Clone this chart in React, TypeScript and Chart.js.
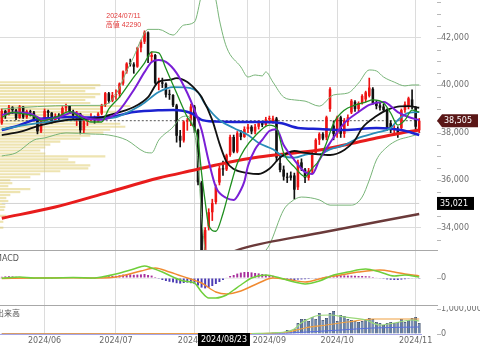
import { useEffect, useRef } from 'react';
import { Chart, registerables } from 'chart.js';

Chart.register(...registerables);
Chart.defaults.font.family = '"DejaVu Sans", "Noto Sans CJK JP", sans-serif';
Chart.defaults.font.size = 8;

// ---------- trading days ----------
const mayDays = [16, 17, 20, 21, 22, 23, 24, 27, 28, 29, 30, 31];
const junDays = [3, 4, 5, 6, 7, 10, 11, 12, 13, 14, 17, 18, 19, 20, 21, 24, 25, 26, 27, 28];
const julDays = [1, 2, 3, 4, 5, 8, 9, 10, 11, 12, 16, 17, 18, 19, 22, 23, 24, 25, 26, 29, 30, 31];
const augDays = [1, 2, 5, 6, 7, 8, 9, 13, 14, 15, 16, 19, 20, 21, 22, 23, 26, 27, 28, 29, 30];
const sepDays = [2, 3, 4, 5, 6, 9, 10, 11, 12, 13, 17, 18, 19, 20, 24, 25, 26, 27, 30];
const octDays = [1, 2, 3, 4, 7, 8, 9, 10, 11, 15, 16, 17, 18, 21, 22, 23, 24, 25, 28, 29, 30, 31];
const novDays = [1, 5];
const monthList: [number, number[]][] = [[5, mayDays], [6, junDays], [7, julDays], [8, augDays], [9, sepDays], [10, octDays], [11, novDays]];
const two = (n: number) => String(n).padStart(2, '0');
const labels: string[] = monthList.flatMap(([m, ds]) => ds.map((d) => `2024/${two(m)}/${two(d)}`));

// ---------- OHLC ----------
const opens = [38400, 38920, 38790, 39070, 38950, 38620, 39100, 38650, 38900, 38850, 38550, 38050,
  38490, 38920, 38840, 38490, 38700, 38680, 39040, 39130, 38880, 38720, 38810, 38100, 38480, 38570, 38630, 38600, 38800, 39170, 39660, 39340,
  39580, 39630, 40070, 40580, 40910, 40880, 40780, 41580, 41830, 42220, 41190, 41270, 40100, 40120, 40060, 39600, 39590, 39150, 37870, 37670, 38470, 38520,
  39100, 38120, 35900, 32400, 34050, 34650, 35080, 35900, 36500, 36450, 37060, 37820, 37200, 37980, 37820, 38150, 38250, 38050, 38250, 38400, 38330,
  38560, 38450, 38600, 36720, 36450, 36150, 36200, 36200, 35700, 36750, 36450, 36100, 36400, 37150, 37700, 37950, 37800, 39000, 38300,
  37950, 38650, 37950, 38450, 38850, 39300, 39000, 39250, 39400, 39550, 39850, 39250, 39150, 39100, 38950, 38400, 38100, 38150, 38200, 38950, 39100, 39400,
  39050, 38100];
const highs = [39000, 38950, 39150, 39100, 38980, 39150, 39100, 38950, 38950, 38900, 38600, 38600,
  39000, 38950, 38850, 38800, 38800, 39100, 39200, 39150, 38950, 38900, 38820, 38550, 38600, 38800, 38700, 38850, 39200, 39700, 39700, 39700,
  39800, 40100, 40600, 40950, 41100, 40950, 41600, 41900, 42290, 42250, 41400, 41300, 40300, 40300, 40100, 39800, 39600, 39200, 38100, 38500, 38600, 39200,
  39150, 38150, 35950, 34000, 34800, 35200, 35800, 36600, 36800, 37100, 37900, 37900, 38050, 38100, 38250, 38350, 38300, 38350, 38500, 38450, 38650,
  38700, 38700, 38650, 37000, 36600, 36300, 36350, 36300, 36850, 36900, 36500, 36500, 37200, 37750, 38000, 38000, 38700, 39900, 38500,
  38700, 38700, 38600, 38750, 39400, 39350, 39300, 39600, 39750, 40300, 39900, 39350, 39250, 39200, 39000, 38500, 38300, 38250, 39000, 39300, 39500, 39800,
  39100, 38600];
const lows = [38350, 38600, 38750, 38800, 38550, 38600, 38600, 38600, 38700, 38500, 37950, 38000,
  38450, 38600, 38400, 38450, 38550, 38650, 38900, 38800, 38600, 38300, 37950, 38000, 38300, 38500, 38400, 38450, 38750, 39100, 39250, 39300,
  39400, 39500, 40000, 40500, 40800, 40500, 40750, 41400, 41750, 40950, 41000, 40050, 39800, 39900, 39500, 39400, 39100, 37600, 37400, 37600, 38100, 38300,
  38000, 35800, 31150, 32000, 33900, 34300, 35000, 35800, 36200, 36400, 37000, 37150, 37150, 37700, 37800, 38000, 37950, 37950, 38150, 38250, 38300,
  38400, 38400, 36800, 36350, 36000, 35900, 36000, 35200, 35600, 36400, 35900, 36000, 36300, 37100, 37500, 37700, 37700, 38900, 37700,
  37800, 37800, 37800, 38300, 38800, 38900, 38900, 39200, 39300, 39500, 39200, 39000, 38950, 38900, 38100, 38000, 37900, 37800, 38150, 38850, 39000, 39000,
  38100, 38000];
const closes = [38920, 38787, 39069, 38946, 38617, 39103, 38646, 38900, 38855, 38556, 38054, 38487,
  38923, 38837, 38490, 38703, 38683, 39038, 39134, 38876, 38720, 38814, 38102, 38482, 38570, 38633, 38596, 38804, 39173, 39667, 39341, 39583,
  39631, 40074, 40580, 40913, 40880, 40780, 41580, 41831, 42224, 41190, 41275, 40097, 40126, 40063, 39599, 39594, 39154, 37869, 37667, 38468, 38525, 39102,
  38126, 35909, 31458, 33900, 34650, 35040, 35710, 36500, 36450, 37050, 37820, 37200, 37980, 37820, 38150, 38250, 38050, 38250, 38400, 38330, 38560,
  38620, 38600, 36950, 36430, 36150, 36100, 36100, 35600, 36750, 36500, 36100, 36400, 37150, 37700, 37950, 37750, 38650, 39830, 37950,
  38650, 37950, 38500, 38650, 39350, 39000, 39250, 39550, 39700, 39900, 39250, 39120, 39050, 38950, 38150, 38100, 38150, 38000, 38950, 39200, 39450, 39100,
  38250, 38505];

const lastPrice = 38505;
const crossPrice = 35021;
const crossDate = '2024/08/23';

// ---------- price lines: [trading-day index, value] ----------
type Pt = [number, number];
const ma5: Pt[] = [[0, 38650], [3, 38850], [6, 38800], [9, 38700], [11, 38500], [13, 38550], [16, 38700], [19, 38900], [22, 38650], [25, 38450], [28, 38450], [30, 39000], [33, 39500], [37, 40340], [40, 40930], [42, 41400], [44, 41360], [46, 40700], [49, 39670], [52, 38660], [53, 38420], [55, 37700], [56, 36300], [57, 35100], [58, 34100], [60, 33850], [62, 34600], [64, 35700], [66, 36700], [68, 37300], [71, 37860], [75, 38320], [77, 38200], [79, 37150], [82, 36560], [85, 36150], [87, 36500], [89, 36850], [91, 37570], [93, 38400], [96, 38950], [99, 39160], [102, 39290], [104, 39380], [107, 39250], [109, 38830], [111, 38320], [113, 38530], [115, 38950], [117, 38870]];
const maPurple: Pt[] = [[0, 38750], [4, 38850], [8, 38800], [12, 38550], [16, 38650], [20, 38850], [24, 38600], [28, 38550], [31, 38700], [33, 38950], [37, 39800], [40, 40550], [42, 40980], [44, 41060], [46, 40980], [49, 40510], [52, 39670], [54, 38960], [56, 38110], [58, 36800], [60, 35710], [63, 35250], [65, 35170], [67, 35590], [68, 35950], [69, 36600], [71, 37300], [73, 37700], [75, 38070], [77, 38150], [79, 37480], [82, 36850], [85, 36340], [87, 36260], [89, 36850], [92, 37570], [96, 38400], [100, 38870], [103, 39170], [107, 39290], [111, 38870], [114, 38660], [117, 38530]];
const maBlack: Pt[] = [[0, 37900], [5, 38030], [11, 38320], [18, 38530], [27, 38620], [30, 38740], [37, 39080], [41, 39500], [44, 40150], [47, 40220], [49, 40300], [52, 40130], [55, 39700], [56, 39500], [59, 38530], [61, 37550], [63, 36770], [65, 36470], [69, 36300], [72, 36260], [75, 36480], [78, 36950], [82, 37230], [85, 37150], [88, 37100], [92, 37060], [96, 37270], [99, 37690], [101, 38200], [105, 38700], [108, 38960], [111, 39100], [114, 39120], [117, 39050]];
const maTeal: Pt[] = [[0, 38150], [10, 38400], [20, 38550], [31, 38620], [39, 39160], [44, 39710], [48, 39920], [52, 39900], [55, 39700], [57, 39200], [61, 38530], [65, 38200], [69, 37900], [72, 37570], [76, 37300], [79, 37000], [82, 36950], [86, 37100], [89, 37100], [92, 37300], [96, 37480], [100, 37780], [105, 38000], [109, 38200], [111, 38530], [114, 38830], [117, 38870]];
const maBlue: Pt[] = [[0, 38110], [5, 38320], [9, 38535], [14, 38620], [19, 38660], [23, 38640], [30, 38660], [37, 38870], [44, 38950], [48, 38960], [53, 38830], [56, 38540], [60, 38470], [65, 38450], [72, 38450], [78, 38410], [83, 38200], [89, 38156], [96, 38114], [105, 38200], [112, 38110], [117, 37900]];
const maRed: Pt[] = [[0, 34400], [15, 34870], [30, 35500], [44, 36090], [54, 36430], [64, 36770], [72, 36980], [82, 37150], [89, 37270], [96, 37480], [105, 37780], [112, 37990], [117, 38110]];
const maBrown: Pt[] = [[58, 32600], [68, 33150], [89, 33780], [117, 34580]];
const bbUpper: Pt[] = [[0, 39000], [10, 39100], [20, 39150], [28, 39150], [31, 39400], [33, 39900], [35, 40600], [37, 41200], [39, 41900], [41, 42350], [44, 42350], [48, 42110], [51, 42530], [54, 42660], [56, 43800], [58, 44600], [60, 43600], [61, 42750], [63, 41600], [67, 40770], [69, 40345], [71, 40430], [73, 40390], [74, 40560], [76, 40130], [79, 39500], [82, 39380], [85, 39330], [89, 39120], [93, 39590], [97, 39670], [100, 40090], [103, 40640], [105, 40600], [107, 40345], [110, 40130], [113, 39970], [115, 40010], [117, 40010]];
const bbLower: Pt[] = [[0, 37020], [4, 37150], [9, 37690], [12, 37780], [18, 37990], [25, 37945], [30, 37900], [35, 37690], [40, 37190], [42, 37150], [44, 37690], [48, 38240], [50, 38620], [52, 38700], [54, 38000], [55, 36800], [56, 34500], [58, 32000], [62, 31000], [67, 31500], [71, 32300], [73, 32850], [75, 33270], [79, 34750], [81, 35080], [84, 35290], [89, 35170], [92, 34950], [98, 34950], [101, 35290], [103, 36000], [105, 36850], [108, 37400], [111, 37690], [114, 37820], [117, 37945]];

// ---------- volume profile (price level, relative volume) ----------
const profilePrices = [40125, 40000, 39875, 39750, 39625, 39500, 39375, 39250, 39125, 39000, 38875, 38750, 38625, 38500, 38375, 38250, 38125, 38000, 37875, 37750, 37625, 37500, 37375, 37250, 37125, 37000, 36875, 36750, 36625, 36500, 36375, 36250, 36125, 36000, 35875, 35750, 35625, 35500, 35375, 35250, 35125, 35000, 34875, 34750, 34500, 34250, 34000];
const profileVolumes = [60, 100, 95, 85, 100, 95, 85, 90, 130, 100, 120, 90, 110, 100, 120, 125, 110, 103, 90, 80, 60, 50, 45, 40, 45, 105, 68, 75, 90, 88, 60, 40, 30, 10, 12, 8, 30, 20, 10, 6, 8, 5, 5, 4, 6, 3, 3];

// ---------- MACD ----------
const macdLine: Pt[] = [[0, -15], [5, 50], [9, 0], [14, 0], [20, 25], [26, 0], [28, 50], [32, 200], [37, 450], [40, 600], [42, 500], [45, 300], [48, 50], [51, -150], [54, -250], [56, -700], [58, -1000], [60, -1000], [63, -850], [65, -600], [67, -350], [70, 0], [74, 150], [78, 0], [82, -200], [85, -300], [89, -150], [93, 150], [97, 300], [102, 450], [106, 300], [110, 100], [113, 150], [117, 50]];
const signalLine: Pt[] = [[0, -25], [9, 0], [20, 10], [28, 0], [32, 50], [39, 350], [43, 500], [47, 300], [52, 0], [56, -250], [60, -700], [63, -800], [67, -650], [72, -250], [76, 0], [81, -100], [85, -200], [90, 0], [95, 150], [100, 300], [106, 400], [110, 300], [113, 200], [117, 100]];
const macdHist = [60, 80, 90, 80, 60, 40,
  20, 10, 0, -10, -30, -30, -10, 0, -10, 0, 10, 20, 30, 20, 10, 0, -30, -30, -20, -10, -10, 10,
  40, 80, 90, 100, 110, 140, 170, 190, 180, 160, 170, 180, 200, 150, 120, 50,
  -40, -100, -150, -190, -220, -260, -280, -250, -230,
  -260, -300, -380, -480, -520, -480, -400, -300, -200, -100, 20,
  100, 150, 220, 270, 300, 300, 280, 250, 230, 200, 170, 140, 110, 40,
  -30, -70, -90, -100, -100, -80, -70, -60, -50, -30, -10,
  20, 40, 70, 110, 130, 140, 130, 130, 120, 120, 110, 100, 100, 90, 80, 50, 20,
  -20, -40, -70, -90, -100, -100, -80, -60, -40, -30, -30, -40];

// ---------- volume ----------
const volumes = [14000, 12000, 15000, 11000, 13000, 16000, 12000, 10000, 12000, 14000, 18000, 15000,
  12000, 11000, 14000, 12000, 13000, 12000, 11000, 13000, 15000, 20000, 16000, 12000, 11000, 12000, 10000, 12000, 14000, 16000, 13000, 14000,
  13000, 15000, 16000, 14000, 12000, 13000, 16000, 15000, 18000, 20000, 16000, 18000, 15000, 14000, 16000, 14000, 15000, 22000, 20000, 17000, 15000, 18000,
  22000, 30000, 45000, 38000, 30000, 26000, 24000, 25000, 22000, 20000, 22000, 20000, 21000, 19000, 20000, 22000, 24000, 26000, 28000, 30000, 36000,
  40000, 60000, 80000, 80000, 60000, 160000, 120000, 200000, 440000, 600000, 600000, 520000, 680000, 600000, 840000, 560000, 640000, 840000, 920000,
  520000, 760000, 720000, 600000, 560000, 520000, 480000, 520000, 560000, 640000, 600000, 480000, 440000, 360000, 440000, 480000, 440000, 480000, 600000, 480000, 560000, 640000,
  680000, 440000];
const volMaShort: Pt[] = [[70, 20000], [76, 50000], [80, 100000], [82, 200000], [84, 450000], [86, 600000], [88, 720000], [92, 760000], [96, 680000], [102, 560000], [106, 360000], [110, 440000], [115, 560000], [117, 520000]];
const volMaMid: Pt[] = [[0, 10000], [60, 15000], [75, 30000], [80, 80000], [85, 240000], [91, 360000], [97, 480000], [104, 600000], [110, 600000], [117, 600000]];
const volMaLong: Pt[] = [[0, 8000], [70, 15000], [80, 40000], [88, 100000], [95, 160000], [104, 240000], [117, 280000]];

// ---------- helpers ----------
const W = 480;
const PLOT_RIGHT = 421;
const fmt = (v: number) => v.toLocaleString('en-US');
const monthStarts = new Set<number>(labels.map((l, i) => (i > 0 && l.slice(5, 7) !== labels[i - 1].slice(5, 7) ? i : -1)).filter((i) => i >= 0));
const crossIdx = labels.indexOf(crossDate);
const vGrid = new Set<number>([...monthStarts, crossIdx]);

const xAxis = (showLabels: boolean, height: number) => ({
  type: 'category',
  offset: true,
  grid: {
    offset: false,
    drawTicks: false,
    lineWidth: 1,
    color: (ctx: any) => (vGrid.has(ctx.index) ? '#dcdcdc' : 'rgba(0,0,0,0)'),
  },
  border: { display: false },
  ticks: {
    display: showLabels,
    autoSkip: false,
    maxRotation: 0,
    padding: 2,
    color: '#666',
    font: { size: 8 },
    callback: (_v: any, i: number) => (monthStarts.has(i) ? labels[i].slice(0, 7) : ''),
  },
  afterFit: (s: any) => {
    s.height = height;
    s.paddingLeft = 0;
    s.paddingRight = 0;
  },
});

const fixY = (s: any) => {
  s.width = W - PLOT_RIGHT;
  s.paddingTop = 0;
  s.paddingBottom = 0;
};

const linePts = (pts: Pt[]) => pts.map(([i, v]) => ({ x: labels[i], y: v }));
const lineDs = (pts: Pt[], color: string, width: number, order: number, extra: any = {}) => ({
  type: 'line',
  data: linePts(pts),
  borderColor: color,
  borderWidth: width,
  pointRadius: 0,
  cubicInterpolationMode: 'monotone',
  fill: false,
  order,
  ...extra,
});

const drawDashes = (ctx: CanvasRenderingContext2D, scale: any, right: number) => {
  ctx.strokeStyle = '#b8b8b8';
  ctx.lineWidth = 1;
  scale.ticks.forEach((t: any) => {
    const py = Math.round(scale.getPixelForValue(t.value)) + 0.5;
    ctx.beginPath();
    ctx.moveTo(right + 16, py);
    ctx.lineTo(right + 20, py);
    ctx.stroke();
  });
};

const baseOptions = {
  responsive: false,
  maintainAspectRatio: false,
  animation: false,
  devicePixelRatio: 1,
  events: [],
  layout: { padding: 0, autoPadding: false },
  plugins: { legend: { display: false }, tooltip: { enabled: false } },
};

export default function App() {
  const priceRef = useRef<HTMLCanvasElement>(null);
  const macdRef = useRef<HTMLCanvasElement>(null);
  const volRef = useRef<HTMLCanvasElement>(null);

  useEffect(() => {
    const candleColor = closes.map((c, i) => (c >= opens[i] ? '#ee1414' : '#111111'));
    const highIdx = highs.indexOf(Math.max(...highs));

    const pricePlugin = {
      id: 'priceDecor',
      afterDraw(chart: any) {
        const { ctx, chartArea: a, scales } = chart;
        const y = scales.y;
        const x = scales.x;
        ctx.save();
        drawDashes(ctx, y, a.right);
        ctx.strokeStyle = '#a8a8a8';
        ctx.lineWidth = 1;
        ctx.beginPath();
        ctx.moveTo(0, a.bottom - 0.5);
        ctx.lineTo(a.right + 17, a.bottom - 0.5);
        ctx.stroke();
        const lp = y.getPixelForValue(lastPrice);
        ctx.fillStyle = '#5a1717';
        ctx.beginPath();
        ctx.moveTo(a.right + 16, lp);
        ctx.lineTo(a.right + 21, lp - 6.5);
        ctx.lineTo(a.right + 57, lp - 6.5);
        ctx.lineTo(a.right + 57, lp + 6.5);
        ctx.lineTo(a.right + 21, lp + 6.5);
        ctx.closePath();
        ctx.fill();
        ctx.fillStyle = '#ffffff';
        ctx.font = '8px "DejaVu Sans"';
        ctx.textBaseline = 'middle';
        ctx.textAlign = 'left';
        ctx.fillText(fmt(lastPrice), a.right + 23, lp + 0.5);
        const cp = y.getPixelForValue(crossPrice);
        ctx.fillStyle = '#000000';
        ctx.fillRect(a.right + 16, cp - 6.5, 37, 13);
        ctx.fillStyle = '#ffffff';
        ctx.fillText(fmt(crossPrice), a.right + 19, cp + 0.5);
        const hx = x.getPixelForValue(highIdx) - 21;
        const hy = y.getPixelForValue(highs[highIdx]);
        ctx.fillStyle = '#e23b3b';
        ctx.font = '7px "Liberation Sans", "Noto Sans CJK JP"';
        ctx.textAlign = 'center';
        ctx.fillText(labels[highIdx], hx, hy - 14.5);
        ctx.fillText('高値 ' + highs[highIdx], hx, hy - 5.5);
        ctx.restore();
      },
    };

    const priceChart = new Chart(priceRef.current as HTMLCanvasElement, {
      type: 'bar',
      data: {
        labels,
        datasets: [
          lineDs(ma5, '#1f8f1f', 1.3, 1),
          lineDs(maPurple, '#7a1fd6', 2, 2),
          lineDs(maBlack, '#111111', 1.8, 3),
          lineDs(maTeal, '#2a8cb8', 1.8, 4),
          lineDs(maBlue, '#1c22d0', 2.5, 5),
          lineDs(maRed, '#e81c1c', 3, 6),
          lineDs(maBrown, '#6b3a3a', 2.5, 7),
          lineDs(bbUpper, '#78b478', 1, 8),
          lineDs(bbLower, '#78b478', 1, 9),
          lineDs([[0, lastPrice], [labels.length - 1, lastPrice]], '#555555', 1, 24, { borderDash: [2, 2], cubicInterpolationMode: 'default', tension: 0 }),
          lineDs([[0, crossPrice], [labels.length - 1, crossPrice]], '#d2d2d2', 1, 26, { cubicInterpolationMode: 'default', tension: 0 }),
          {
            type: 'bar',
            data: labels.map((_, i) => [opens[i], closes[i]]),
            backgroundColor: candleColor,
            barPercentage: 0.72,
            categoryPercentage: 1,
            grouped: false,
            minBarLength: 1,
            order: 20,
          },
          {
            type: 'bar',
            data: labels.map((_, i) => [lows[i], highs[i]]),
            backgroundColor: candleColor,
            barThickness: 1,
            grouped: false,
            order: 21,
          },
          {
            type: 'bar',
            indexAxis: 'y',
            xAxisID: 'xp',
            yAxisID: 'y',
            data: profilePrices.map((p, i) => ({ x: profileVolumes[i], y: p })),
            backgroundColor: 'rgba(222,202,100,0.5)',
            barThickness: 1.5,
            grouped: false,
            order: 30,
          },
        ] as any,
      },
      options: {
        ...baseOptions,
        scales: {
          x: xAxis(false, 0),
          xp: { type: 'linear', display: false, offset: false, grid: { offset: false }, min: 0, max: PLOT_RIGHT },
          y: {
            type: 'linear',
            position: 'right',
            offset: false,
            min: 33019,
            max: 43587,
            afterBuildTicks: (s: any) => {
              const t = [];
              for (let v = 33500; v <= 43500; v += 500) t.push({ value: v });
              s.ticks = t;
            },
            ticks: {
              autoSkip: false,
              padding: 20,
              color: '#6e6e6e',
              font: { size: 8 },
              callback: (v: any) => (Number(v) % 2000 === 0 ? fmt(Number(v)) : ''),
            },
            grid: {
              offset: false,
              drawTicks: false,
              color: (ctx: any) => (ctx.tick && ctx.tick.value % 2000 === 0 ? '#dcdcdc' : 'rgba(0,0,0,0)'),
            },
            border: { display: false },
            afterFit: fixY,
          },
        },
      } as any,
      plugins: [pricePlugin],
    });

    const macdPlugin = {
      id: 'macdDecor',
      afterDraw(chart: any) {
        const { ctx, chartArea: a, scales } = chart;
        ctx.save();
        drawDashes(ctx, scales.y, a.right);
        ctx.strokeStyle = '#a8a8a8';
        ctx.lineWidth = 1;
        ctx.beginPath();
        ctx.moveTo(0, a.bottom - 0.5);
        ctx.lineTo(a.right + 17, a.bottom - 0.5);
        ctx.stroke();
        ctx.fillStyle = '#555';
        ctx.font = '8px "DejaVu Sans"';
        ctx.textBaseline = 'middle';
        ctx.textAlign = 'left';
        ctx.fillText('MACD', -5, a.top + 8);
        ctx.restore();
      },
    };

    const macdChart = new Chart(macdRef.current as HTMLCanvasElement, {
      type: 'bar',
      data: {
        labels,
        datasets: [
          lineDs(macdLine, '#6fcf3a', 1.5, 1),
          lineDs(signalLine, '#f08a30', 1.5, 2),
          {
            type: 'bar',
            data: macdHist,
            backgroundColor: macdHist.map((v) => (v >= 0 ? '#a8309c' : '#4c3cb4')),
            barPercentage: 0.55,
            categoryPercentage: 1,
            order: 10,
          },
        ] as any,
      },
      options: {
        ...baseOptions,
        scales: {
          x: xAxis(false, 0),
          y: {
            type: 'linear',
            position: 'right',
            min: -1400,
            max: 1350,
            afterBuildTicks: (s: any) => {
              s.ticks = [{ value: 0 }];
            },
            ticks: { autoSkip: false, padding: 20, color: '#6e6e6e', font: { size: 8 } },
            grid: { drawTicks: false, color: '#ececec' },
            border: { display: false },
            afterFit: fixY,
          },
        },
      } as any,
      plugins: [macdPlugin],
    });

    const volPlugin = {
      id: 'volDecor',
      afterDraw(chart: any) {
        const { ctx, chartArea: a, scales } = chart;
        ctx.save();
        drawDashes(ctx, scales.y, a.right);
        ctx.strokeStyle = '#a6a6e6';
        ctx.lineWidth = 1;
        ctx.beginPath();
        ctx.moveTo(0, a.bottom + 0.5);
        ctx.lineTo(a.right + 1, a.bottom + 0.5);
        ctx.stroke();
        ctx.fillStyle = '#555';
        ctx.font = '8px "DejaVu Sans", "Noto Sans CJK JP"';
        ctx.textBaseline = 'middle';
        ctx.textAlign = 'left';
        ctx.fillText('出来高', -4, a.top + 8);
        const cx = scales.x.getPixelForValue(crossIdx);
        const bw = 52;
        ctx.fillStyle = '#000';
        ctx.fillRect(cx + 2 - bw, a.bottom - 1, bw, 13);
        ctx.fillStyle = '#fff';
        ctx.font = '8px "DejaVu Sans"';
        ctx.textAlign = 'center';
        ctx.fillText(crossDate, cx + 2 - bw / 2, a.bottom + 5.5);
        ctx.restore();
      },
    };

    const volChart = new Chart(volRef.current as HTMLCanvasElement, {
      type: 'bar',
      data: {
        labels,
        datasets: [
          lineDs(volMaShort, '#9ad87a', 1.2, 1),
          lineDs(volMaMid, '#f0a040', 1.2, 2),
          lineDs(volMaLong, '#5a6ee0', 1, 3),
          {
            type: 'bar',
            data: volumes,
            backgroundColor: '#6080ad',
            borderColor: '#30405f',
            borderWidth: 0.8,
            barPercentage: 0.82,
            categoryPercentage: 1,
            order: 10,
          },
        ] as any,
      },
      options: {
        ...baseOptions,
        scales: {
          x: xAxis(true, 19),
          y: {
            type: 'linear',
            position: 'right',
            min: 0,
            max: 1120000,
            afterBuildTicks: (s: any) => {
              s.ticks = [{ value: 0 }, { value: 1000000 }];
            },
            ticks: { autoSkip: false, padding: 20, color: '#6e6e6e', font: { size: 8 }, callback: (v: any) => fmt(Number(v)) },
            grid: { drawTicks: false, color: 'rgba(0,0,0,0)' },
            border: { display: false },
            afterFit: fixY,
          },
        },
      } as any,
      plugins: [volPlugin],
    });

    return () => {
      priceChart.destroy();
      macdChart.destroy();
      volChart.destroy();
    };
  }, []);

  return (
    <div style={{ position: 'fixed', left: 0, top: 0, width: W, height: 353, background: '#fff', overflow: 'hidden' }}>
      <canvas ref={priceRef} width={W} height={251} style={{ position: 'absolute', left: 0, top: 0 }} />
      <canvas ref={macdRef} width={W} height={55} style={{ position: 'absolute', left: 0, top: 251 }} />
      <canvas ref={volRef} width={W} height={47} style={{ position: 'absolute', left: 0, top: 306 }} />
    </div>
  );
}
